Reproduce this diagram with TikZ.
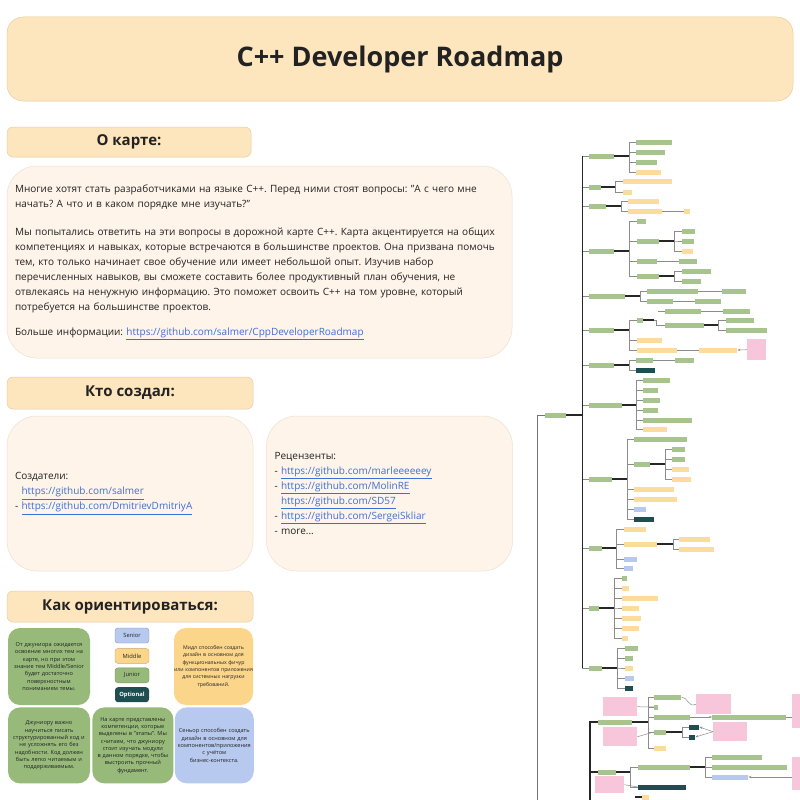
\documentclass[tikz,border=0pt]{standalone}
\usepackage{fontspec}
\setmainfont{Open Sans}
\usetikzlibrary{positioning,arrows.meta}
\frenchspacing

\definecolor{hdrfill}{HTML}{FDE5BD}
\definecolor{hdrline}{HTML}{EACDA0}
\definecolor{cardfill}{HTML}{FEF4EA}
\definecolor{cardline}{HTML}{EFE0D0}
\definecolor{linkblue}{HTML}{3D6FD6}
\definecolor{tgreen}{HTML}{97BA7A}
\definecolor{tyellow}{HTML}{FBD68A}
\definecolor{tblue}{HTML}{B7C9EE}
\definecolor{tteal}{HTML}{1E4E50}
\definecolor{tpink}{HTML}{F8C6DA}
\definecolor{ink}{HTML}{222222}
\newcommand{\lnk}[1]{\textcolor{linkblue}{\underline{#1}}}

\begin{document}
\begin{tikzpicture}[x=1pt,y=-1pt,
	hdr/.style={rectangle,rounded corners=6pt,draw=hdrline,line width=0.5pt,fill=hdrfill,text=ink,font=\bfseries\fontsize{15}{18}\selectfont},
	card/.style={rectangle,rounded corners=30pt,draw=cardline,line width=0.5pt,fill=cardfill,text=ink,inner sep=8pt,align=left,font=\fontsize{10}{15}\selectfont},
	tile/.style={rectangle,rounded corners=12pt,inner sep=1pt,text width=77pt,align=center,text=ink,font=\fontsize{5.6}{7.3}\selectfont},
	pill/.style={rectangle,rounded corners=3pt,minimum width=34pt,minimum height=15pt,inner sep=1pt,text=ink,font=\fontsize{5.8}{7}\selectfont},
	bar/.style={rectangle,inner sep=0pt,minimum height=5pt,anchor=west},
	gbar/.style={bar,fill=tgreen!85!white},
	ybar/.style={bar,fill=tyellow!85!white},
	bbar/.style={bar,fill=tblue},
	obar/.style={bar,fill=tteal},
	note/.style={rectangle,fill=tpink,inner sep=0pt,anchor=north west},
	twig/.style={draw=black!45,line width=0.5pt},
	stem/.style={draw=black!85,line width=1.3pt}]
	\path[fill=white,use as bounding box] (0,0) rectangle (800,800);

	% left column
	\node[hdr,minimum width=786pt,minimum height=84pt,rounded corners=16pt,font=\bfseries\fontsize{27}{32}\selectfont] (title) at (400,59) {C++ Developer Roadmap};
	\node[hdr,minimum width=244pt,minimum height=30pt] (about) at (129,142) {О карте:};
	\node[card,minimum width=505pt,minimum height=192pt,text width=489pt] (abouttext) at (259.5,262) {Многие хотят стать разработчиками на языке C++. Перед ними стоят вопросы: "А с чего мне\\
		начать? А что и в каком порядке мне изучать?"\\[13pt]
		Мы попытались ответить на эти вопросы в дорожной карте C++. Карта акцентируется на общих\\
		компетенциях и навыках, которые встречаются в большинстве проектов. Она призвана помочь\\
		тем, кто только начинает свое обучение или имеет небольшой опыт. Изучив набор\\
		перечисленных навыков, вы сможете составить более продуктивный план обучения, не\\
		отвлекаясь на ненужную информацию. Это поможет освоить C++ на том уровне, который\\
		потребуется на большинстве проектов.\\[10pt]
		Больше информации: \lnk{https://github.com/salmer/CppDeveloperRoadmap}};

	\node[hdr,minimum width=246pt,minimum height=32pt] (who) at (130,393) {Кто создал:};
	\node[card,minimum width=246pt,minimum height=155pt,text width=230pt] (authors) at (130,493.5) {Создатели:\\
		\hphantom{- }\lnk{https://github.com/salmer}\\
		- \lnk{https://github.com/DmitrievDmitriyA}};
	\node[card,minimum width=246pt,minimum height=155pt,text width=230pt,right=13pt of authors] (reviewers) {Рецензенты:\\
		- \lnk{https://github.com/marleeeeeey}\\
		- \lnk{https://github.com/MolinRE}\\
		\hphantom{- }\lnk{https://github.com/SD57}\\
		- \lnk{https://github.com/SergeiSkliar}\\
		- more...};

	% legend
	\node[hdr,minimum width=246pt,minimum height=31pt] (howto) at (130,606.5) {Как ориентироваться:};
	\node[tile,fill=tgreen,minimum width=82pt,minimum height=77pt] (jun) at (49,666.5) {От джуниора ожидается\\ освоение многих тем на\\ карте, но при этом\\ знание тем Middle/Senior\\ будет достаточно\\ поверхностным\\ пониманием темы.};
	\node[pill,fill=tblue,draw=tblue!75!black] (senior) at (132,635.5) {Senior};
	\node[pill,fill=tyellow,draw=tyellow!80!black,below=5pt of senior] (middle) {Middle};
	\node[pill,fill=tgreen,draw=tgreen!80!black,below=4pt of middle] (junior) {Junior};
	\node[pill,fill=tteal,text=white,font=\bfseries\fontsize{5.8}{7}\selectfont,below=4pt of junior] (optional) {Optional};
	\node[tile,fill=tyellow,minimum width=79pt,minimum height=77pt,inner sep=0pt,text width=79pt,font=\fontsize{5.2}{7.3}\selectfont] (mid) at (213.5,666.5) {Мидл способен создать\\ дизайн в основном для\\ функциональных фичур\\ или компонентов приложения\\ для системных нагрузки\\ требований.};
	\node[tile,fill=tgreen,minimum width=82pt,minimum height=76pt,below=2pt of jun] (junnote) {Джуниору важно\\ научиться писать\\ структурированный код и\\ не усложнять его без\\ надобности. Код должен\\ быть легко читаемым и\\ поддерживаемым.};
	\node[tile,fill=tgreen,minimum width=81pt,minimum height=76pt,right=2pt of junnote] (stages) {На карте представлены\\ компетенции, которые\\ выделены в "этапы". Мы\\ считаем, что джуниору\\ стоит изучать модули\\ в данном порядке, чтобы\\ выстроить прочный\\ фундамент.};
	\node[tile,fill=tblue,minimum width=79pt,minimum height=76pt,right=1pt of stages] (sen) {Сеньор способен создать\\ дизайн в основном для\\ компонентов/приложения\\ с учётом\\ бизнес-контекста.};

	% roadmap tree, root and main branches
	\node[gbar,minimum width=21pt] (r) at (545,415) {};
	\node[gbar,minimum width=25pt] (b1) at (589,156) {};
	\node[gbar,minimum width=12pt] (b2) at (589,187) {};
	\node[gbar,minimum width=17pt] (b3) at (589,206) {};
	\node[gbar,minimum width=25pt] (b4) at (589,251) {};
	\node[gbar,minimum width=36pt] (b5) at (589,296) {};
	\node[gbar,minimum width=25pt] (b6) at (589,330) {};
	\node[gbar,minimum width=25pt] (b7) at (589,365) {};
	\node[gbar,minimum width=33pt] (b8) at (589,405) {};
	\node[gbar,minimum width=23pt] (b9) at (589,479) {};
	\node[gbar,minimum width=13pt] (b10) at (589,548) {};
	\node[gbar,minimum width=10pt] (b11) at (589,608) {};
	\node[gbar,minimum width=13pt] (b12) at (589,668) {};
	\foreach \i in {1,...,12}
		\draw[twig] (r.east) -- ++(16,0) |- (b\i.west);
	\draw[draw=black!85,line width=1pt] (r.east) ++(16,0) -- ++(0,-259) (r.east) ++(16,0) -- ++(0,253);
	\draw[stem] (r.east) -- ++(16,0);

	% branch 1
	\node[gbar,minimum width=36pt] (b1a) at (636,142) {};
	\node[gbar,minimum width=29pt] (b1b) at (636,152) {};
	\node[gbar,minimum width=21pt] (b1c) at (636,162) {};
	\node[ybar,minimum width=25pt] (b1d) at (636,172) {};
	\foreach \c in {a,b,c,d}
		\draw[twig] (b1.east) -- ++(15,0) |- (b1\c.west);
	\draw[stem] (b1.east) -- ++(15,0);

	% branch 2
	\node[ybar,minimum width=49pt] (b2a) at (623,181) {};
	\node[ybar,minimum width=9pt] (b2b) at (623,192) {};
	\foreach \c in {a,b}
		\draw[twig] (b2.east) -- ++(14,0) |- (b2\c.west);
	\draw[stem] (b2.east) -- ++(14,0);

	% branch 3
	\node[ybar,minimum width=31pt] (b3a) at (628,201) {};
	\node[ybar,minimum width=34pt] (b3b) at (628,211) {};
	\node[ybar,minimum width=6pt] (b3c) at (684,211) {};
	\foreach \c in {a,b}
		\draw[twig] (b3.east) -- ++(15,0) |- (b3\c.west);
	\draw[stem] (b3.east) -- ++(15,0);
	\draw[twig] (b3b.east) -- (b3c.west);

	% branch 4
	\node[gbar,minimum width=9pt] (b4a) at (637,221) {};
	\node[gbar,minimum width=22pt] (b4b) at (637,241) {};
	\node[gbar,minimum width=20pt] (b4c) at (637,261) {};
	\node[gbar,minimum width=22pt] (b4d) at (637,276) {};
	\node[gbar,minimum width=13pt] (b4e) at (682,231) {};
	\node[gbar,minimum width=12pt] (b4f) at (682,241) {};
	\node[ybar,minimum width=11pt] (b4g) at (682,251) {};
	\node[gbar,minimum width=18pt] (b4h) at (679,261) {};
	\node[gbar,minimum width=29pt] (b4i) at (682,271) {};
	\node[gbar,minimum width=19pt] (b4j) at (682,281) {};
	\foreach \c in {a,b,c,d}
		\draw[twig] (b4.east) -- ++(15,0) |- (b4\c.west);
	\draw[stem] (b4.east) -- ++(15,0);
	\foreach \c in {e,f,g}
		\draw[twig] (b4b.east) -- ++(15,0) |- (b4\c.west);
	\draw[stem] (b4b.east) -- ++(15,0);
	\draw[twig] (b4c.east) -- (b4h.west);
	\foreach \c in {i,j}
		\draw[twig] (b4d.east) -- ++(15,0) |- (b4\c.west);
	\draw[stem] (b4d.east) -- ++(15,0);

	% branch 5
	\node[gbar,minimum width=51pt] (b5a) at (647,291) {};
	\node[gbar,minimum width=26pt] (b5b) at (647,301) {};
	\node[gbar,minimum width=24pt] (b5c) at (722,291) {};
	\node[gbar,minimum width=26pt] (b5d) at (695,301) {};
	\node[gbar,minimum width=36pt] (b5e) at (665,311) {};
	\node[gbar,minimum width=27pt] (b5f) at (723,311) {};
	\coordinate (b5s) at (658,311);
	\foreach \c in {a,b}
		\draw[twig] (b5.east) -- ++(15,0) |- (b5\c.west);
	\draw[stem] (b5.east) -- ++(15,0);
	\draw[twig] (b5a.east) -- (b5c.west);
	\draw[twig] (b5b.east) -- (b5d.west);
	\draw[twig] (b5s) -- (b5e.west);
	\draw[twig] (b5e.east) -- (b5f.west);

	% branch 6
	\node[gbar,minimum width=6pt] (b6a) at (637,320) {};
	\node[ybar,minimum width=25pt] (b6b) at (637,340) {};
	\node[ybar,minimum width=40pt] (b6c) at (637,350) {};
	\node[gbar,minimum width=39pt] (b6d) at (665,325) {};
	\node[gbar,minimum width=28pt] (b6e) at (726,320) {};
	\node[gbar,minimum width=41pt] (b6f) at (726,330) {};
	\node[ybar,minimum width=38pt] (b6g) at (699,350) {};
	\node[note,minimum width=19pt,minimum height=21pt] (n1) at (747,339) {};
	\foreach \c in {a,b,c}
		\draw[twig] (b6.east) -- ++(15,0) |- (b6\c.west);
	\draw[stem] (b6.east) -- ++(15,0);
	\draw[twig] (b6a.east) -- ++(13,0) |- (b6d.west);
	\draw[stem] (b6a.east) -- ++(11,0);
	\foreach \c in {e,f}
		\draw[twig] (b6d.east) -- ++(14,0) |- (b6\c.west);
	\draw[stem] (b6d.east) -- ++(14,0);
	\draw[twig] (b6c.east) -- (b6g.west);
	\draw[twig,-{Stealth[length=3pt]}] (n1.west) -- (b6g.east);

	% branch 7
	\node[gbar,minimum width=17pt] (b7a) at (636,360) {};
	\node[obar,minimum width=19pt] (b7b) at (636,370) {};
	\node[gbar,minimum width=19pt] (b7c) at (675,360) {};
	\foreach \c in {a,b}
		\draw[twig] (b7.east) -- ++(15,0) |- (b7\c.west);
	\draw[stem] (b7.east) -- ++(15,0);
	\draw[twig] (b7a.east) -- (b7c.west);

	% branch 8
	\node[gbar,minimum width=27pt] (b8a) at (643,380) {};
	\node[gbar,minimum width=15pt] (b8b) at (643,390) {};
	\node[gbar,minimum width=17pt] (b8c) at (643,400) {};
	\node[gbar,minimum width=15pt] (b8d) at (643,410) {};
	\node[gbar,minimum width=49pt] (b8e) at (643,420) {};
	\node[ybar,minimum width=24pt] (b8f) at (643,429) {};
	\foreach \c in {a,b,c,d,e,f}
		\draw[twig] (b8.east) -- ++(14,0) |- (b8\c.west);
	\draw[stem] (b8.east) -- ++(14,0);

	% branch 9
	\node[gbar,minimum width=53pt] (b9a) at (634,439) {};
	\node[gbar,minimum width=16pt] (b9b) at (634,464) {};
	\node[ybar,minimum width=40pt] (b9c) at (634,489) {};
	\node[ybar,minimum width=43pt] (b9d) at (634,499) {};
	\node[bbar,minimum width=12pt] (b9e) at (634,509) {};
	\node[obar,minimum width=20pt] (b9f) at (634,519) {};
	\node[gbar,minimum width=13pt] (b9g) at (672,449) {};
	\node[gbar,minimum width=13pt] (b9h) at (672,459) {};
	\node[ybar,minimum width=17pt] (b9i) at (672,469) {};
	\node[ybar,minimum width=19pt] (b9j) at (672,479) {};
	\foreach \c in {a,b,c,d,e,f}
		\draw[twig] (b9.east) -- ++(15,0) |- (b9\c.west);
	\draw[stem] (b9.east) -- ++(15,0);
	\foreach \c in {g,h,i,j}
		\draw[twig] (b9b.east) -- ++(15,0) |- (b9\c.west);
	\draw[stem] (b9b.east) -- ++(15,0);

	% branch 10
	\node[ybar,minimum width=22pt] (b10a) at (624,529) {};
	\node[ybar,minimum width=33pt] (b10b) at (624,544) {};
	\node[bbar,minimum width=13pt] (b10c) at (624,559) {};
	\node[bbar,minimum width=9pt] (b10d) at (624,568) {};
	\node[ybar,minimum width=31pt] (b10e) at (679,539) {};
	\node[ybar,minimum width=35pt] (b10f) at (679,549) {};
	\foreach \c in {a,b,c,d}
		\draw[twig] (b10.east) -- ++(14,0) |- (b10\c.west);
	\draw[stem] (b10.east) -- ++(14,0);
	\foreach \c in {e,f}
		\draw[twig] (b10b.east) -- ++(16,0) |- (b10\c.west);
	\draw[stem] (b10b.east) -- ++(16,0);

	% branch 11
	\node[gbar,minimum width=5pt] (b11a) at (622,578) {};
	\node[ybar,minimum width=7pt] (b11b) at (622,588) {};
	\node[ybar,minimum width=36pt] (b11c) at (622,598) {};
	\node[ybar,minimum width=17pt] (b11d) at (622,608) {};
	\node[ybar,minimum width=19pt] (b11e) at (622,618) {};
	\node[ybar,minimum width=17pt] (b11f) at (622,628) {};
	\node[ybar,minimum width=6pt] (b11g) at (622,638) {};
	\foreach \c in {a,b,c,d,e,f,g}
		\draw[twig] (b11.east) -- ++(15,0) |- (b11\c.west);
	\draw[stem] (b11.east) -- ++(15,0);

	% branch 12
	\node[gbar,minimum width=13pt] (b12a) at (625,648) {};
	\node[gbar,minimum width=8pt] (b12b) at (625,658) {};
	\node[ybar,minimum width=8pt] (b12c) at (625,668) {};
	\node[bbar,minimum width=9pt] (b12d) at (625,678) {};
	\node[obar,minimum width=8pt] (b12e) at (625,688) {};
	\foreach \c in {a,b,c,d,e}
		\draw[twig] (b12.east) -- ++(15,0) |- (b12\c.west);
	\draw[stem] (b12.east) -- ++(15,0);

	% lower part of the map
	\coordinate (tail) at (537,800);
	\coordinate (tail2) at (590,800);
	\draw[draw=black!55,line width=0.8pt] (r.west) -| (tail);
	\node[gbar,minimum width=34pt] (l1) at (598,722) {};
	\node[gbar,minimum width=18pt] (l2) at (598,772) {};
	\draw[stem] (tail2) |- (l1.west);
	\draw[stem] (tail2) |- (l2.west);

	\node[gbar,minimum width=27pt] (l1a) at (654,697) {};
	\node[gbar,minimum width=4pt] (l1b) at (654,707) {};
	\node[gbar,minimum width=36pt] (l1c) at (654,717) {};
	\node[gbar,minimum width=12pt] (l1d) at (654,732) {};
	\node[ybar,minimum width=12pt] (l1e) at (654,748) {};
	\node[gbar,minimum width=74pt] (l1f) at (712,717) {};
	\node[obar,minimum width=10pt] (l1g) at (689,727) {};
	\node[obar,minimum width=6pt] (l1h) at (689,737) {};
	\node[note,minimum width=35pt,minimum height=20pt] (n2) at (696,694) {};
	\node[note,minimum width=34pt,minimum height=19pt] (n3) at (713,722) {};
	\node[note,minimum width=34pt,minimum height=19pt] (n4) at (603,697) {};
	\node[note,minimum width=34pt,minimum height=19pt] (n5) at (603,727) {};
	\node[note,minimum width=20pt,minimum height=34pt] (n6) at (792,694) {};
	\foreach \c in {a,b,c,d,e}
		\draw[twig] (l1.east) -- ++(16,0) |- (l1\c.west);
	\draw[stem] (l1.east) -- ++(16,0);
	\foreach \c in {g,h}
		\draw[twig] (l1d.east) -- ++(16,0) |- (l1\c.west);
	\draw[stem] (l1d.east) -- ++(16,0);
	\draw[twig,-{Stealth[length=3pt]}] (l1c.east) -- (l1f.west);
	\draw[twig] (l1f.east) -- (n6.west |- l1f.east);
	\draw[twig] (l1a.east) .. controls (688,697) and (688,708) .. (n2.west);
	\draw[twig,-{Stealth[length=3pt]}] (n3.west) -- (l1g.east);
	\draw[twig,-{Stealth[length=3pt]}] (n3.west) -- (l1h.east);
	\draw[twig] (n4.east) -- (l1b.west);
	\draw[twig] (n5.east) -- (l1d.west);

	\node[gbar,minimum width=52pt] (l2a) at (638,767) {};
	\node[obar,minimum width=48pt] (l2b) at (638,787) {};
	\node[gbar,minimum width=50pt] (l2c) at (712,757) {};
	\node[gbar,minimum width=75pt] (l2d) at (712,767) {};
	\node[bbar,minimum width=36pt] (l2e) at (712,777) {};
	\node[note,minimum width=20pt,minimum height=33pt] (n7) at (792,757) {};
	\node[note,minimum width=29pt,minimum height=17pt] (n8) at (595,776) {};
	\foreach \c in {a,b}
		\draw[twig] (l2.east) -- ++(14,0) |- (l2\c.west);
	\draw[stem] (l2.east) -- ++(14,0);
	\foreach \c in {c,d,e}
		\draw[twig] (l2a.east) -- ++(15,0) |- (l2\c.west);
	\draw[stem] (l2a.east) -- ++(15,0);
	\draw[twig,-{Stealth[length=3pt]}] (n7.west |- l2e.east) -- (l2e.east);
	\draw[twig] (n8.east) -- (l2b.west);

	\node[ybar,minimum width=7pt] (l3) at (642,797) {};
	\coordinate (l3s) at (635,797);
	\draw[stem] (l3s) -- (l3.west);
\end{tikzpicture}
\end{document}
